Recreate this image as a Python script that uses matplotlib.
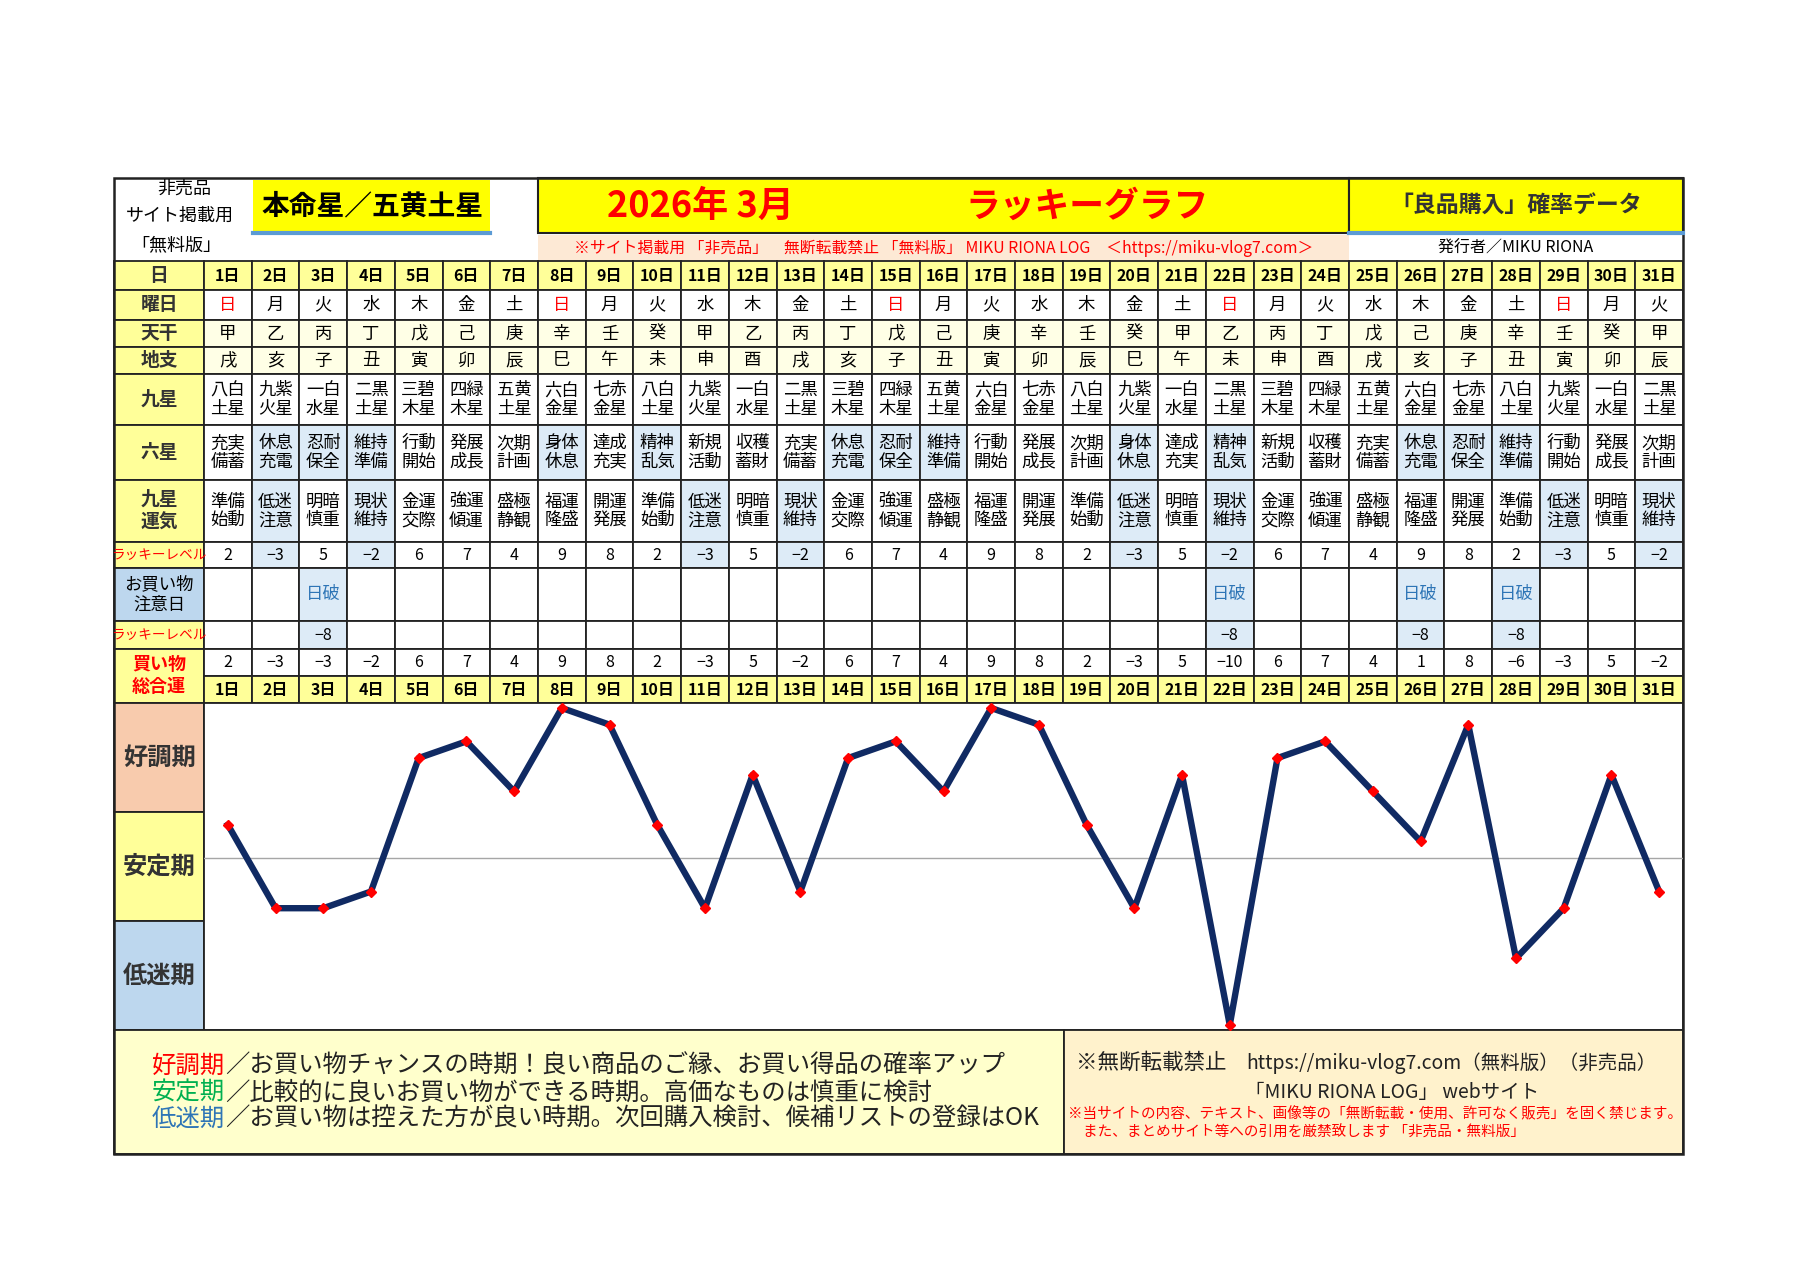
import matplotlib
matplotlib.use('Agg')
import matplotlib.pyplot as plt
from matplotlib.patches import Rectangle

plt.rcParams['font.family'] = ['Noto Sans CJK JP', 'DejaVu Sans']

DAYS = list(range(1, 32))
WEEKDAY = list('日月火水木金土日月火水木金土日月火水木金土日月火水木金土日月火')
TENKAN = list('甲乙丙丁戊己庚辛壬癸甲乙丙丁戊己庚辛壬癸甲乙丙丁戊己庚辛壬癸甲')
CHISHI = list('戌亥子丑寅卯辰巳午未申酉戌亥子丑寅卯辰巳午未申酉戌亥子丑寅卯辰')
KYUSEI = ['八白土星', '九紫火星', '一白水星', '二黒土星', '三碧木星', '四緑木星', '五黄土星', '六白金星', '七赤金星',
          '八白土星', '九紫火星', '一白水星', '二黒土星', '三碧木星', '四緑木星', '五黄土星', '六白金星', '七赤金星',
          '八白土星', '九紫火星', '一白水星', '二黒土星', '三碧木星', '四緑木星', '五黄土星', '六白金星', '七赤金星',
          '八白土星', '九紫火星', '一白水星', '二黒土星']
ROKUSEI = ['充実備蓄', '休息充電', '忍耐保全', '維持準備', '行動開始', '発展成長', '次期計画', '身体休息', '達成充実', '精神乱気', '新規活動', '収穫蓄財',
           '充実備蓄', '休息充電', '忍耐保全', '維持準備', '行動開始', '発展成長', '次期計画', '身体休息', '達成充実', '精神乱気', '新規活動', '収穫蓄財',
           '充実備蓄', '休息充電', '忍耐保全', '維持準備', '行動開始', '発展成長', '次期計画']
UNKI = ['準備始動', '低迷注意', '明暗慎重', '現状維持', '金運交際', '強運傾運', '盛極静観', '福運隆盛', '開運発展',
        '準備始動', '低迷注意', '明暗慎重', '現状維持', '金運交際', '強運傾運', '盛極静観', '福運隆盛', '開運発展',
        '準備始動', '低迷注意', '明暗慎重', '現状維持', '金運交際', '強運傾運', '盛極静観', '福運隆盛', '開運発展',
        '準備始動', '低迷注意', '明暗慎重', '現状維持']
LUCKY = [2, -3, 5, -2, 6, 7, 4, 9, 8, 2, -3, 5, -2, 6, 7, 4, 9, 8, 2, -3, 5, -2, 6, 7, 4, 9, 8, 2, -3, 5, -2]
CAUTION = ['', '', '日破', '', '', '', '', '', '', '', '', '', '', '', '', '', '', '', '', '', '',
           '日破', '', '', '', '日破', '', '日破', '', '', '']
CAUTION_LEVEL = [None, None, -8, None, None, None, None, None, None, None, None, None, None, None, None, None,
                 None, None, None, None, None, -8, None, None, None, -8, None, -8, None, None, None]
TOTAL = [2, -3, -3, -2, 6, 7, 4, 9, 8, 2, -3, 5, -2, 6, 7, 4, 9, 8, 2, -3, 5, -10, 6, 7, 4, 1, 8, -6, -3, 5, -2]

BLUE_ROKUSEI = {'休息充電', '忍耐保全', '維持準備', '身体休息', '精神乱気'}
BLUE_UNKI = {'低迷注意', '現状維持'}

W, H = 1800, 1272
fig = plt.figure(figsize=(W / 100, H / 100), dpi=100)
ax = fig.add_axes([0, 0, 1, 1])
ax.set_xlim(0, W)
ax.set_ylim(H, 0)
ax.axis('off')

L, LC, R = 114, 204, 1683
TOP = 178
colw = (R - LC) / 31
ROW_Y = [261, 290, 320, 347, 374, 425, 480, 542, 568, 621, 649, 676, 703]
CH_BOT = 1030
FT_BOT = 1154

YEL = '#ffff99'
PALE = '#ffffe6'
LBLUE = '#ddebf7'
EC = '#222222'


def cell(x0, y0, x1, y1, fc='white', lw=1.3, ec=EC):
    ax.add_patch(Rectangle((x0, y0), x1 - x0, y1 - y0, fc=fc, ec=ec, lw=lw))


def txt(x, y, s, size=12.5, color='black', weight='normal', ha='center', **kw):
    ax.text(x, y, s, fontsize=size, color=color, fontweight=weight, ha=ha, va='center', **kw)


def fmt(v):
    return str(v).replace('-', '−')


def two(s):
    return s[:2] + '\n' + s[2:]


# ---- header ----
txt(184, 189, '非売品', 13)
txt(180, 216, 'サイト掲載用', 13)
txt(176, 245, '「無料版」', 13)
ax.add_patch(Rectangle((253, 180), 237, 53, fc='#ffff00', ec='none'))
ax.plot([253, 490], [233, 233], color='#5b9bd5', lw=3)
txt(372, 206, '本命星／五黄土星', 20, weight='bold')
cell(538, TOP, 1349, 233, fc='#ffff00', lw=1.5)
txt(700, 206, '2026年 3月', 26, color='#ff0000', weight='bold')
txt(1087, 206, 'ラッキーグラフ', 25, color='#ff0000', weight='bold')
cell(1349, TOP, R, 233, fc='#ffff00', lw=1.5)
ax.plot([1349, R], [233, 233], color='#5b9bd5', lw=3)
txt(1516, 206, '「良品購入」確率データ', 16.5, color='#333333', weight='bold')
ax.add_patch(Rectangle((538, 235), 811, 26, fc='#fde9d5', ec='none'))
txt(944, 248, '※サイト掲載用 「非売品」　無断転載禁止 「無料版」 MIKU RIONA LOG　＜https://miku-vlog7.com＞',
    11.4, color='#ff0000')
txt(1516, 248, '発行者／MIKU RIONA', 11.5)

# ---- table ----
labels = ['日', '曜日', '天干', '地支', '九星', '六星', '九星\n運気', 'ラッキーレベル', 'お買い物\n注意日', 'ラッキーレベル']
for r, lab in enumerate(labels):
    y0, y1 = ROW_Y[r], ROW_Y[r + 1]
    fc = '#bdd7ee' if r == 8 else YEL
    cell(L, y0, LC, y1, fc=fc)
    if lab == 'ラッキーレベル':
        txt((L + LC) / 2, (y0 + y1) / 2, lab, 9.8, color='#ff0000')
    elif r == 8:
        txt((L + LC) / 2, (y0 + y1) / 2, lab, 12.5, linespacing=1.15)
    else:
        txt((L + LC) / 2, (y0 + y1) / 2, lab, 13.5, weight='bold', color='#333333', linespacing=1.25)
cell(L, ROW_Y[10], LC, ROW_Y[12], fc=YEL)
txt((L + LC) / 2, (ROW_Y[10] + ROW_Y[12]) / 2, '買い物\n総合運', 13, color='#ff0000', weight='bold', linespacing=1.2)

for i in range(31):
    x0 = LC + i * colw
    x1 = x0 + colw
    xc = (x0 + x1) / 2
    yc = lambda r: (ROW_Y[r] + ROW_Y[r + 1]) / 2
    cell(x0, ROW_Y[0], x1, ROW_Y[1], fc=YEL)
    txt(xc, yc(0), f'{DAYS[i]}日', 11.5, weight='bold')
    cell(x0, ROW_Y[1], x1, ROW_Y[2])
    txt(xc, yc(1), WEEKDAY[i], 12.5, color='#ff0000' if WEEKDAY[i] == '日' else 'black')
    cell(x0, ROW_Y[2], x1, ROW_Y[3], fc=PALE)
    txt(xc, yc(2), TENKAN[i])
    cell(x0, ROW_Y[3], x1, ROW_Y[4], fc=PALE)
    txt(xc, yc(3), CHISHI[i])
    cell(x0, ROW_Y[4], x1, ROW_Y[5])
    txt(xc, yc(4), two(KYUSEI[i]), linespacing=1.05)
    cell(x0, ROW_Y[5], x1, ROW_Y[6], fc=LBLUE if ROKUSEI[i] in BLUE_ROKUSEI else 'white')
    txt(xc, yc(5), two(ROKUSEI[i]), linespacing=1.05)
    cell(x0, ROW_Y[6], x1, ROW_Y[7], fc=LBLUE if UNKI[i] in BLUE_UNKI else 'white')
    txt(xc, yc(6), two(UNKI[i]), linespacing=1.05)
    cell(x0, ROW_Y[7], x1, ROW_Y[8], fc=LBLUE if LUCKY[i] in (-3, -2) else 'white')
    txt(xc, yc(7), fmt(LUCKY[i]), 11.5)
    cell(x0, ROW_Y[8], x1, ROW_Y[9], fc=LBLUE if CAUTION[i] else 'white')
    txt(xc, yc(8), CAUTION[i], 12.5, color='#2e75b6')
    cell(x0, ROW_Y[9], x1, ROW_Y[10], fc=LBLUE if CAUTION_LEVEL[i] is not None else 'white')
    if CAUTION_LEVEL[i] is not None:
        txt(xc, yc(9), fmt(CAUTION_LEVEL[i]), 11.5)
    cell(x0, ROW_Y[10], x1, ROW_Y[11])
    txt(xc, yc(10), fmt(TOTAL[i]), 11.5)
    cell(x0, ROW_Y[11], x1, ROW_Y[12], fc=YEL)
    txt(xc, yc(11), f'{DAYS[i]}日', 11.5, weight='bold')

# ---- chart bands ----
bands = [('好調期', '#f8cbad'), ('安定期', '#ffff99'), ('低迷期', '#bdd7ee')]
bh = (CH_BOT - ROW_Y[12]) / 3
for k, (lab, col) in enumerate(bands):
    y0 = ROW_Y[12] + k * bh
    cell(L, y0, LC, y0 + bh, fc=col)
    txt((L + LC) / 2, y0 + bh / 2, lab, 17.5, color='#333333', weight='bold')
cell(LC, ROW_Y[12], R, CH_BOT, fc='white')

# ---- footer ----
cell(L, CH_BOT, 1064, FT_BOT, fc='#ffffcc')
cell(1064, CH_BOT, R, FT_BOT, fc='#fff2cc')
foot = [('好調期', '#ff0000', '／お買い物チャンスの時期！良い商品のご縁、お買い得品の確率アップ'),
        ('安定期', '#00b050', '／比較的に良いお買い物ができる時期。高価なものは慎重に検討'),
        ('低迷期', '#2e75b6', '／お買い物は控えた方が良い時期。次回購入検討、候補リストの登録はOK')]
for k, (a, c, b) in enumerate(foot):
    y = 1066 + k * 26.5
    t = ax.text(152, y, a, fontsize=17.6, color=c, ha='left', va='center')
    ax.annotate(b, xycoords=t, xy=(1, 0.5), va='center', ha='left', fontsize=17.6, color='#222222')
txt(1076, 1063, '※無断転載禁止', 15.5, ha='left', color='#222222')
txt(1246, 1063, 'https://miku-vlog7.com（無料版）（非売品）', 14, ha='left', color='#222222')
txt(1392, 1092, '「MIKU RIONA LOG」 webサイト', 14, color='#222222')
txt(1068, 1114, '※当サイトの内容、テキスト、画像等の「無断転載・使用、許可なく販売」を固く禁じます。', 10.5,
    ha='left', color='#ff0000')
txt(1083, 1133, 'また、まとめサイト等への引用を厳禁致します 「非売品・無料版」', 10.5, ha='left', color='#ff0000')

# outer frame
ax.add_patch(Rectangle((L, TOP), R - L, FT_BOT - TOP, fc='none', ec=EC, lw=1.8))

# ---- line chart ----
cax = fig.add_axes([LC / W, 1 - CH_BOT / H, (R - LC) / W, (CH_BOT - ROW_Y[12]) / H])
cax.patch.set_alpha(0)
cax.set_xlim(0.5, 31.5)
cax.set_ylim(-10.3, 9.3)
cax.axhline(0, color='#a6a6a6', lw=1)
cax.plot(DAYS, TOTAL, color='#102a63', lw=4.6, solid_joinstyle='round', zorder=3, clip_on=False)
cax.plot(DAYS, TOTAL, ls='none', marker='D', ms=5.5, color='#ff0000', zorder=4, clip_on=False)
cax.axis('off')

fig.savefig('out.png', dpi=100)
